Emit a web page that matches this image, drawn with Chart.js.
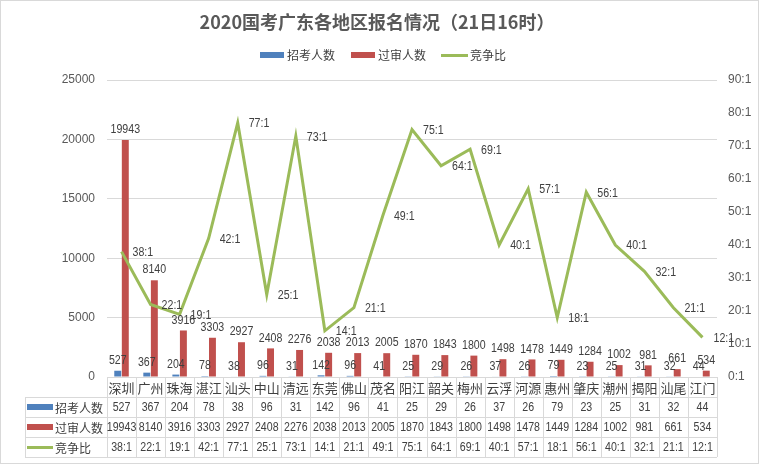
<!DOCTYPE html>
<html>
<head>
<meta charset="utf-8">
<script src="https://cdn.jsdelivr.net/npm/chart.js@4.4.1/dist/chart.umd.min.js"></script>
<style>
  html, body { margin: 0; padding: 0; background: #fff; }
  #wrap { width: 759px; height: 464px; }
</style>
</head>
<body>
<div id="wrap"><canvas id="myChart" width="759" height="464"></canvas></div>
<script>
const titulo = "2020国考广东各地区报名情况（21日16时）";
const regiones = ["深圳", "广州", "珠海", "湛江", "汕头", "中山", "清远", "东莞", "佛山", "茂名", "阳江",
  "韶关", "梅州", "云浮", "河源", "惠州", "肇庆", "潮州", "揭阳", "汕尾", "江门"];
const zhaokao = [527, 367, 204, 78, 38, 96, 31, 142, 96, 41, 25, 29, 26, 37, 26, 79, 23, 25, 31, 32, 44];
const guoshen = [19943, 8140, 3916, 3303, 2927, 2408, 2276, 2038, 2013, 2005, 1870, 1843, 1800, 1498, 1478,
  1449, 1284, 1002, 981, 661, 534];
const jingzheng = [38, 22, 19, 42, 77, 25, 73, 14, 21, 49, 75, 64, 69, 40, 57, 18, 56, 40, 32, 21, 12];
const nombres = ["招考人数", "过审人数", "竞争比"];

const AZUL = "#4f81bd";
const ROJO = "#c0504d";
const VERDE = "#9bbb59";
const GRIS = "#d9d9d9";
const TEXTO = "#404040";
const FUENTE = "'Noto Sans CJK SC', 'Noto Sans', sans-serif";
const NUM = "'Liberation Sans', sans-serif";
const ANCHO = 0.85; // numeros un poco angostos, como en el original

function ratio(v) {
  return v + ":1";
}

// texto numerico comprimido en horizontal
function numero(ctx, txt, x, y, align) {
  ctx.save();
  ctx.font = "12.5px " + NUM;
  ctx.textAlign = align;
  ctx.translate(x, y);
  ctx.scale(ANCHO, 1);
  ctx.fillText(String(txt), 0, 0);
  ctx.restore();
}

// etiquetas sobre barras y a la derecha de la linea
const etiquetas = {
  id: "etiquetas",
  afterDatasetsDraw(chart) {
    const ctx = chart.ctx;
    ctx.save();
    ctx.fillStyle = TEXTO;
    chart.data.datasets.forEach((ds, i) => {
      const meta = chart.getDatasetMeta(i);
      meta.data.forEach((el, j) => {
        if (ds.type === "line") {
          ctx.textBaseline = "middle";
          numero(ctx, ratio(ds.data[j]), el.x + 11, el.y + 1, "left");
        } else {
          ctx.textBaseline = "bottom";
          numero(ctx, ds.data[j], el.x, el.y - 4, "center");
        }
      });
    });
    ctx.restore();
  }
};

// titulo, leyenda, tabla de datos y borde
const tabla = {
  id: "tabla",
  afterDraw(chart) {
    const ctx = chart.ctx;
    const area = chart.chartArea;
    const xs = chart.scales.x;
    const n = regiones.length;
    const colW = (area.right - area.left) / n;
    const izq = 25;
    const filaH = 20;
    const top = area.bottom;
    ctx.save();

    // titulo
    ctx.fillStyle = "#595959";
    ctx.font = "bold 18px " + FUENTE;
    ctx.textAlign = "center";
    ctx.textBaseline = "middle";
    ctx.fillText(titulo, 377, 22);

    // leyenda
    ctx.font = "12px " + FUENTE;
    ctx.textAlign = "left";
    ctx.fillStyle = TEXTO;
    const ley = [[260, AZUL, "bar"], [351, ROJO, "bar"], [441, VERDE, "line"]];
    ley.forEach((l, i) => {
      ctx.fillStyle = l[1];
      if (l[2] === "bar") {
        ctx.fillRect(l[0], 52, 24, 6);
      } else {
        ctx.fillRect(l[0], 54, 27, 3);
      }
      ctx.fillStyle = TEXTO;
      ctx.fillText(nombres[i], l[0] + 27 + (l[2] === "line" ? 2 : 0), 55);
    });

    // lineas de la tabla
    ctx.strokeStyle = GRIS;
    ctx.lineWidth = 1;
    ctx.beginPath();
    ctx.moveTo(area.left, top + 0.5);
    ctx.lineTo(area.right, top + 0.5);
    for (let r = 1; r <= 4; r++) {
      const y = Math.round(top + r * filaH) + 0.5;
      ctx.moveTo(izq, y);
      ctx.lineTo(area.right, y);
    }
    for (let c = 0; c <= n; c++) {
      const x = Math.round(area.left + c * colW) + 0.5;
      ctx.moveTo(x, top);
      ctx.lineTo(x, top + 4 * filaH);
    }
    ctx.moveTo(izq + 0.5, top + filaH);
    ctx.lineTo(izq + 0.5, top + 4 * filaH);
    ctx.stroke();

    // categorias
    ctx.fillStyle = TEXTO;
    ctx.textAlign = "center";
    ctx.textBaseline = "middle";
    ctx.font = "13px " + FUENTE;
    regiones.forEach((r, i) => {
      ctx.fillText(r, xs.getPixelForValue(i), top + filaH / 2 + 1);
    });

    // filas de valores
    const filas = [zhaokao, guoshen, jingzheng.map(ratio)];
    const colores = [AZUL, ROJO, VERDE];
    filas.forEach((fila, k) => {
      const yc = top + (k + 1.5) * filaH;
      ctx.fillStyle = TEXTO;
      fila.forEach((v, i) => {
        numero(ctx, v, xs.getPixelForValue(i), yc + 1, "center");
      });
      ctx.fillStyle = colores[k];
      if (k < 2) {
        ctx.fillRect(izq + 2, yc - 3, 26, 6);
      } else {
        ctx.fillRect(izq + 2, yc - 1, 26, 3);
      }
      ctx.fillStyle = TEXTO;
      ctx.font = "12px " + FUENTE;
      ctx.textAlign = "left";
      ctx.fillText(nombres[k], izq + 30, yc + 1);
    });

    // borde
    ctx.strokeStyle = GRIS;
    ctx.strokeRect(0.5, 0.5, chart.width - 1, chart.height - 1);
    ctx.restore();
  }
};

const fondo = {
  id: "fondo",
  beforeDraw(chart) {
    const ctx = chart.ctx;
    ctx.save();
    ctx.fillStyle = "#fff";
    ctx.fillRect(0, 0, chart.width, chart.height);
    ctx.restore();
  }
};

const ctx = document.getElementById("myChart").getContext("2d");
new Chart(ctx, {
  type: "bar",
  data: {
    labels: regiones,
    datasets: [
      {
        type: "line",
        label: nombres[2],
        data: jingzheng,
        yAxisID: "y1",
        borderColor: VERDE,
        borderWidth: 3,
        pointRadius: 0,
        tension: 0,
        order: 0
      },
      {
        label: nombres[0],
        data: zhaokao,
        backgroundColor: AZUL,
        yAxisID: "y",
        order: 1
      },
      {
        label: nombres[1],
        data: guoshen,
        backgroundColor: ROJO,
        yAxisID: "y",
        order: 1
      }
    ]
  },
  options: {
    responsive: false,
    animation: false,
    devicePixelRatio: 1,
    layout: { padding: { top: 80, bottom: 87, left: 0, right: 0 } },
    datasets: { bar: { categoryPercentage: 0.52, barPercentage: 0.92 } },
    plugins: {
      legend: { display: false },
      title: { display: false },
      tooltip: { enabled: false }
    },
    scales: {
      x: { display: false },
      y: {
        position: "left",
        min: 0,
        max: 25000,
        ticks: {
          stepSize: 5000,
          color: "#595959",
          font: { size: 12, family: NUM },
          padding: 12,
          callback: (v) => String(v)
        },
        grid: { color: GRIS, drawTicks: false },
        border: { display: false },
        afterFit(scale) { scale.width = 107; }
      },
      y1: {
        position: "right",
        min: 0,
        max: 90,
        ticks: { stepSize: 10, color: "#595959", font: { size: 12, family: NUM }, callback: ratio, padding: 11 },
        grid: { display: false, drawTicks: false },
        border: { display: false },
        afterFit(scale) { scale.width = 42; }
      }
    }
  },
  plugins: [fondo, etiquetas, tabla]
});
</script>
</body>
</html>
